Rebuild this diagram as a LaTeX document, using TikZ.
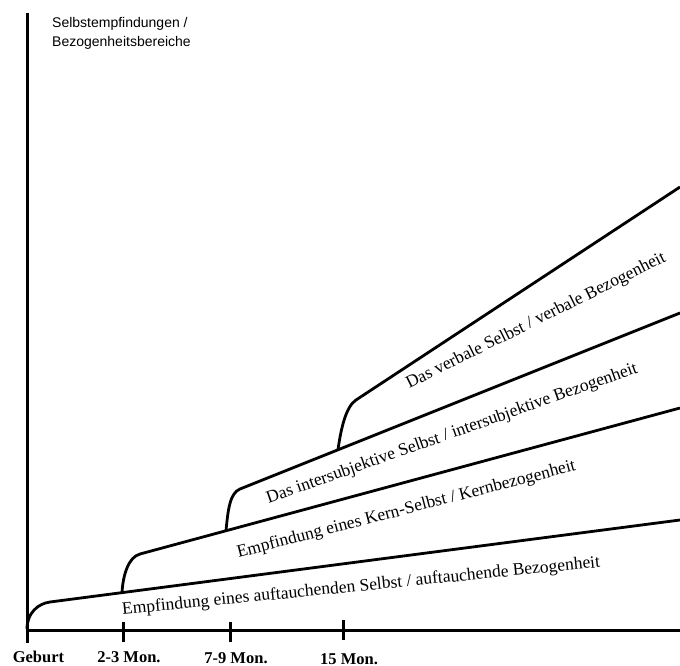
\documentclass[tikz,border=0pt]{standalone}
\usepackage{fontspec}
\setmainfont{Liberation Serif}
\newfontfamily\axfont{Liberation Sans}
\begin{document}
\begin{tikzpicture}[x=1pt,y=-1pt,
  axis/.style={line width=3pt},
  band/.style={line width=2.8pt, line join=round},
  bandtext/.style={anchor=base, inner sep=0pt, font=\fontsize{17.5}{20}\selectfont},
  ticklabel/.style={anchor=base, inner sep=0pt, font=\fontsize{16.5}{19}\selectfont\bfseries},
  axtitle/.style={anchor=base west, inner sep=0pt, font=\axfont\fontsize{14}{16}\selectfont}]
\useasboundingbox (0,0) rectangle (680,666);
% axes
\coordinate (ytop) at (27,13);
\coordinate (ybot) at (27,643);
\coordinate (xl) at (25.5,630);
\coordinate (xr) at (680,630);
\draw[axis] (ytop) -- (ybot);
\draw[axis] (xl) -- (xr);
% ticks
\foreach \n/\x/\ya/\yb in {a/123/622/642, b/230/622/642, c/343/620/640}{
  \coordinate (tick\n top) at (\x,\ya);
  \coordinate (tick\n bot) at (\x,\yb);
  \draw[axis] (tick\n top) -- (tick\n bot);
}
% tick labels
\node[ticklabel] (lgeb) at (38.5,662) {Geburt};
\node[ticklabel] (l23) at (129,662) {2-3 Mon.};
\node[ticklabel] (l79) at (236,663.5) {7-9 Mon.};
\node[ticklabel] (l15) at (349,664.5) {15 Mon.};
% axis title
\node[axtitle] (title1) at (52,28) {Selbstempfindungen /};
\node[axtitle] (title2) at (52,47) {Bezogenheitsbereiche};
% bands
\coordinate (e0) at (27,629);
\coordinate (e0c) at (27,613);
\coordinate (e1c) at (38.1,603.5);
\coordinate (e1) at (50,602);
\coordinate (e2) at (680,520);
\draw[band] (e0) .. controls (e0c) and (e1c) .. (e1) -- (e2);

\coordinate (c0) at (122,592.6);
\coordinate (c0c) at (123,575);
\coordinate (c1c) at (128.4,557.1);
\coordinate (c1) at (140,554);
\coordinate (c2) at (680,408);
\draw[band] (c0) .. controls (c0c) and (c1c) .. (c1) -- (c2);

\coordinate (i0) at (226,530.7);
\coordinate (i0c) at (228,510);
\coordinate (i1c) at (229.8,493.1);
\coordinate (i1) at (240,489);
\coordinate (i2) at (680,313);
\draw[band] (i0) .. controls (i0c) and (i1c) .. (i1) -- (i2);

\coordinate (v0) at (338,449.8);
\coordinate (v0c) at (341,428);
\coordinate (v1c) at (346,406.6);
\coordinate (v1) at (356,400);
\coordinate (v2) at (680,187);
\draw[band] (v0) .. controls (v0c) and (v1c) .. (v1) -- (v2);
% band texts
\node[bandtext, rotate=5.7] (txte) at (361.5,591) {Empfindung eines auftauchenden Selbst / auftauchende Bezogenheit};
\node[bandtext, rotate=14.5] (txtc) at (407.5,514) {Empfindung eines Kern-Selbst / Kernbezogenheit};
\node[bandtext, rotate=19.5] (txti) at (453.5,438) {Das intersubjektive Selbst / intersubjektive Bezogenheit};
\node[bandtext, rotate=26.4] (txtv) at (538,325) {Das verbale Selbst / verbale Bezogenheit};
\end{tikzpicture}
\end{document}
